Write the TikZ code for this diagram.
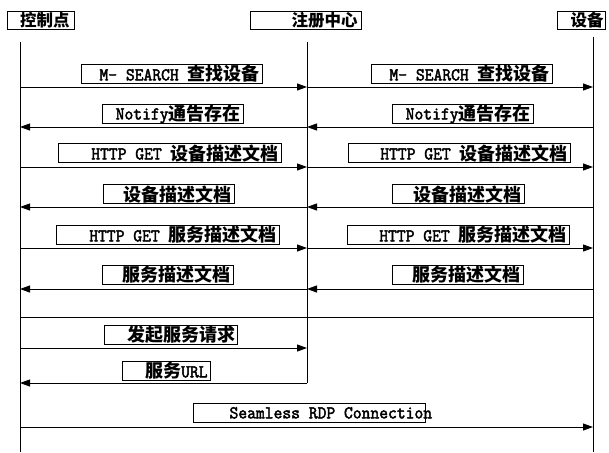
\documentclass[tikz,border=0pt]{standalone}
\usepackage{fontspec}
\usetikzlibrary{arrows.meta}
\newfontfamily\mycjkfam{Noto Sans CJK SC}
\newfontfamily\myttfam[FakeBold=2.5,FakeStretch=0.95]{Latin Modern Mono}
\newcommand\mylat[1]{\raisebox{0.6pt}{\myttfam\fontsize{18}{18}\selectfont #1}}
\newcommand\myhan{\mycjkfam\bfseries\fontsize{18}{18}\selectfont}
\newcommand\myhanhead{\mycjkfam\bfseries\fontsize{16.5}{16.5}\selectfont}
\begin{document}
\begin{tikzpicture}[x=1pt,y=-1pt,
  msg/.style={draw, line width=1.1pt, inner xsep=0pt, inner ysep=0pt,
              minimum height=19pt, anchor=north west},
  head/.style={draw, line width=1.3pt, inner xsep=0pt, inner ysep=0pt,
              minimum height=18pt, anchor=north west},
  life/.style={line width=0.9pt},
  arr/.style={line width=1pt, -{Triangle[length=10pt,width=7pt]}},
  plain/.style={line width=1pt}]
\useasboundingbox (0,0) rectangle (609,452);

% header boxes
\node[head] (cp) at (7,11) {\hbox to 67pt{\hfill\myhanhead 控制点\kern5pt}};
\node[head] (reg) at (250,11) {\hbox to 111pt{\hfill\myhanhead 注册中心\kern4pt}};
\node[head] (dev) at (557,11) {\hbox to 48pt{\hfill\myhanhead 设备\kern2pt}};

% lifelines
\coordinate (Ltop) at (20,42);  \coordinate (Lbot) at (20,452);
\coordinate (Mtop) at (307,42); \coordinate (Mbot) at (307,383);
\coordinate (Rtop) at (593,37); \coordinate (Rbot) at (593,452);
\draw[life] (Ltop) -- (Lbot);
\draw[life] (Mtop) -- (Mbot);
\draw[life] (Rtop) -- (Rbot);

% row coordinates
\coordinate (r1) at (0,87);
\coordinate (r2) at (0,127);
\coordinate (r3) at (0,167);
\coordinate (r4) at (0,207);
\coordinate (r5) at (0,248);
\coordinate (r6) at (0,289);
\coordinate (r7) at (0,317);
\coordinate (r8) at (0,348);
\coordinate (r9) at (0,383);
\coordinate (r10) at (0,427);

% labels
\node[msg] (m1l) at (81,64) {\hbox to 181pt{\hfill\mylat{M- SEARCH }\myhan 查找设备\kern3pt}};
\node[msg] (m1r) at (371,64) {\hbox to 181pt{\hfill\mylat{M- SEARCH }\myhan 查找设备\kern3pt}};
\node[msg] (m2l) at (102,104) {\hbox to 141pt{\hfill\mylat{Notify}\myhan 通告存在\kern3pt}};
\node[msg] (m2r) at (392,104) {\hbox to 141pt{\hfill\mylat{Notify}\myhan 通告存在\kern3pt}};
\node[msg] (m3l) at (58,143) {\hbox to 223pt{\hfill\mylat{HTTP GET }\myhan 设备描述文档\kern3pt}};
\node[msg] (m3r) at (348,143) {\hbox to 222pt{\hfill\mylat{HTTP GET }\myhan 设备描述文档\kern3pt}};
\node[msg] (m4l) at (103,184) {\hbox to 131pt{\hfill\myhan 设备描述文档\kern3pt}};
\node[msg] (m4r) at (392,184) {\hbox to 132pt{\hfill\myhan 设备描述文档\kern3pt}};
\node[msg] (m5l) at (56,225) {\hbox to 223pt{\hfill\mylat{HTTP GET }\myhan 服务描述文档\kern3pt}};
\node[msg] (m5r) at (347,225) {\hbox to 222pt{\hfill\mylat{HTTP GET }\myhan 服务描述文档\kern3pt}};
\node[msg] (m6l) at (102,265) {\hbox to 131pt{\hfill\myhan 服务描述文档\kern3pt}};
\node[msg] (m6r) at (392,265) {\hbox to 131pt{\hfill\myhan 服务描述文档\kern3pt}};
\node[msg] (m8) at (104,325) {\hbox to 133pt{\hfill\myhan 发起服务请求\kern2pt}};
\node[msg] (m9) at (122,361) {\hbox to 88pt{\hfill\myhan 服务\mylat{URL}\kern3pt}};
\node[msg] (m10) at (193,403) {\hbox to 232pt{\kern36pt\mylat{Seamless RDP Connection}\hss}};

% messages
\draw[arr] (Ltop |- r1) -- (Mtop |- r1);
\draw[arr] (Mtop |- r1) -- (Rtop |- r1);
\draw[arr] (Mtop |- r2) -- (Ltop |- r2);
\draw[arr] (Rtop |- r2) -- (Mtop |- r2);
\draw[arr] (Ltop |- r3) -- (Mtop |- r3);
\draw[arr] (Mtop |- r3) -- (Rtop |- r3);
\draw[arr] (Mtop |- r4) -- (Ltop |- r4);
\draw[arr] (Rtop |- r4) -- (Mtop |- r4);
\draw[arr] (Ltop |- r5) -- (Mtop |- r5);
\draw[arr] (Mtop |- r5) -- (Rtop |- r5);
\draw[arr] (Mtop |- r6) -- (Ltop |- r6);
\draw[arr] (Rtop |- r6) -- (Mtop |- r6);
\draw[plain] (Ltop |- r7) -- (Rtop |- r7);
\draw[arr] (Ltop |- r8) -- (Mtop |- r8);
\draw[arr] (Mtop |- r9) -- (Ltop |- r9);
\draw[arr] (Ltop |- r10) -- (Rtop |- r10);
\end{tikzpicture}
\end{document}
